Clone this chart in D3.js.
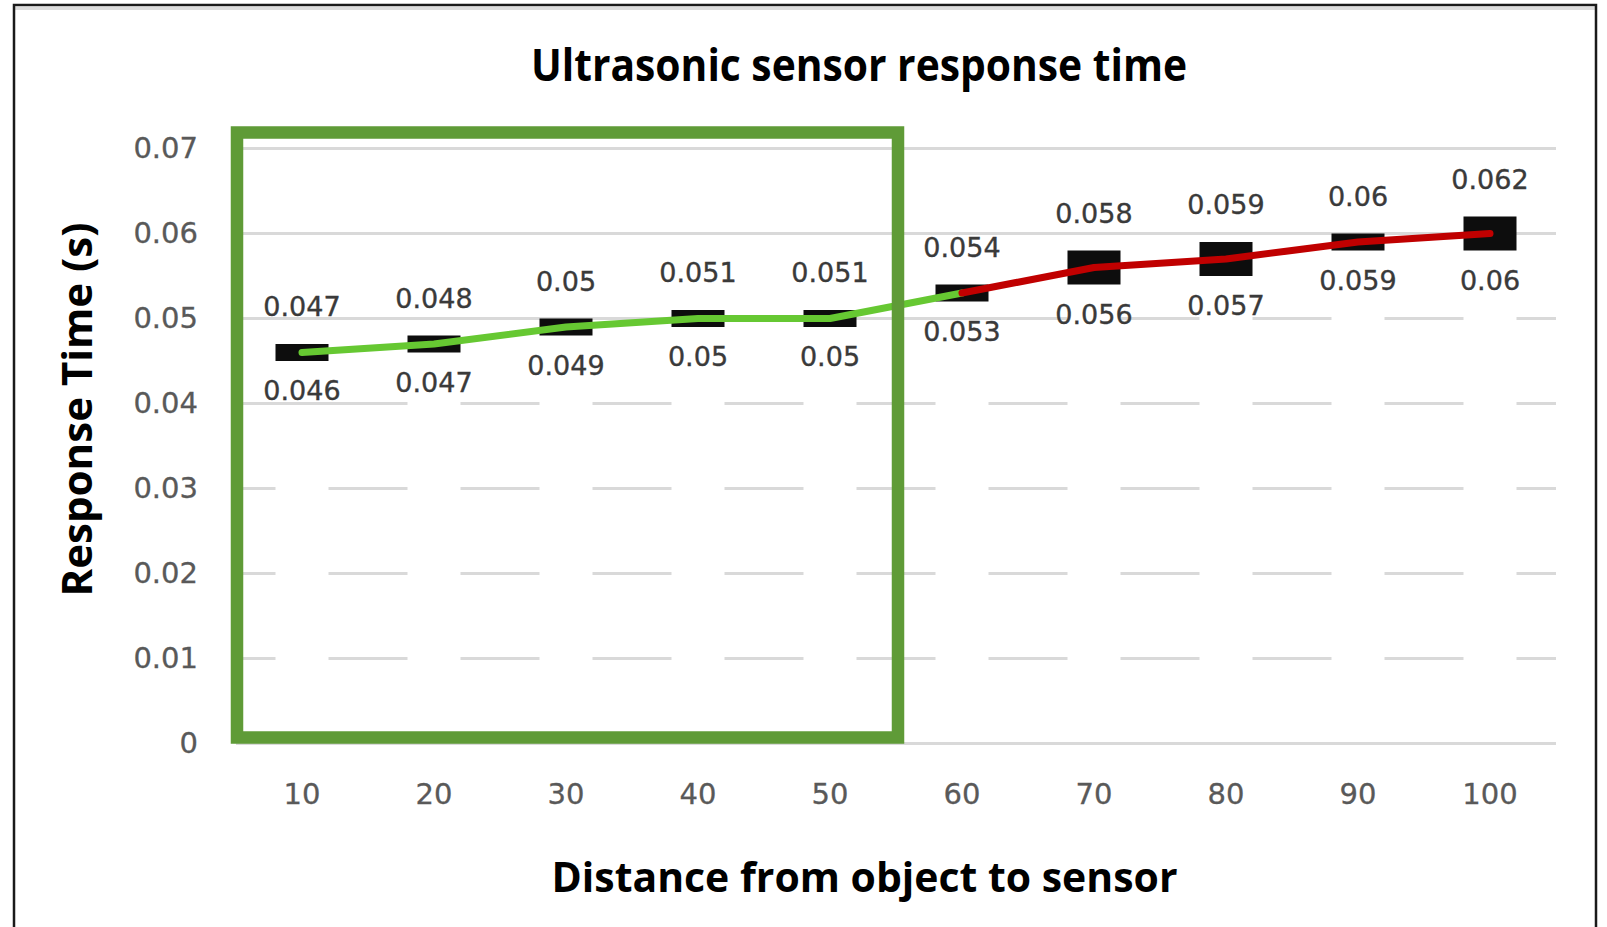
<!DOCTYPE html>
<html>
<head>
<meta charset="utf-8">
<script src="https://cdn.jsdelivr.net/npm/d3@7"></script>
<style>
  html, body { margin: 0; padding: 0; background: #ffffff; }
  svg { display: block; }
</style>
</head>
<body>
<svg id="chart" width="1607" height="927"></svg>
<script>
// ---- data ----
const categories = ["10", "20", "30", "40", "50", "60", "70", "80", "90", "100"];
const highValues = [0.047, 0.048, 0.05, 0.051, 0.051, 0.054, 0.058, 0.059, 0.06, 0.062];
const lowValues  = [0.046, 0.047, 0.049, 0.05, 0.05, 0.053, 0.056, 0.057, 0.059, 0.06];
const yTicks = [0, 0.01, 0.02, 0.03, 0.04, 0.05, 0.06, 0.07];
const yTickLabels = ["0", "0.01", "0.02", "0.03", "0.04", "0.05", "0.06", "0.07"];
const highlightedCategories = ["10", "20", "30", "40", "50"];
const greenSegment = ["10", "20", "30", "40", "50", "60"];
const redSegment = ["60", "70", "80", "90", "100"];
const titleText = "Ultrasonic sensor response time";
const xTitleText = "Distance from object to sensor";
const yTitleText = "Response Time (s)";

const svg = d3.select("#chart");
const W = 1607, H = 927;

const x = d3.scaleBand().domain(categories).range([236, 1556]).padding(0);
const y = d3.scaleLinear().domain([0, 0.07]).range([743.5, 148.5]);
const cx = c => x(c) + x.bandwidth() / 2;
const barW = 53;

const rows = categories.map((c, i) => ({ c, high: highValues[i], low: lowValues[i] }));
const byCat = {};
rows.forEach(r => byCat[r.c] = r);

// ---- frame ----
svg.append("rect").attr("width", W).attr("height", H).attr("fill", "#ffffff");
svg.append("line").attr("x1", 15).attr("x2", 1595).attr("y1", 8.5).attr("y2", 8.5)
  .attr("stroke", "#dcdcdc").attr("stroke-width", 3);
svg.append("path")
  .attr("d", "M14,927 L14,5 L1596,5 L1596,927")
  .attr("fill", "none").attr("stroke", "#1a1a1a").attr("stroke-width", 2.5);

// ---- gridlines (broken under the hidden base of each floating bar) ----
function gapped(v, c) {
  const n = +c;
  if (v <= 0 || v >= 0.06) return false;
  if (v <= 0.03) return true;
  if (Math.abs(v - 0.04) < 1e-9) return n !== 10;
  if (Math.abs(v - 0.05) < 1e-9) return n >= 70;
  return false;
}
const gridG = svg.append("g");
const [gx0, gx1] = x.range();
yTicks.forEach(v => {
  const gaps = categories.filter(c => gapped(v, c))
    .map(c => [cx(c) - barW / 2, cx(c) + barW / 2]);
  let start = gx0;
  const segs = [];
  gaps.forEach(g => { if (g[0] > start) segs.push([start, g[0]]); start = g[1]; });
  if (start < gx1) segs.push([start, gx1]);
  segs.forEach(s => {
    gridG.append("line")
      .attr("x1", s[0]).attr("x2", s[1])
      .attr("y1", y(v)).attr("y2", y(v))
      .attr("stroke", "#d9d9d9").attr("stroke-width", 3);
  });
});

// ---- axes ----
const yAxis = d3.axisLeft(y).tickValues(yTicks)
  .tickFormat((d, i) => yTickLabels[i]).tickSize(0).tickPadding(38);
const yAxisG = svg.append("g").attr("transform", `translate(${gx0},0)`).call(yAxis);
yAxisG.select(".domain").remove();
yAxisG.selectAll("text")
  .attr("font-family", "DejaVu Sans").attr("font-size", 29).attr("fill", "#595959")
  .attr("stroke", "#595959").attr("stroke-width", 0.3);

const xAxis = d3.axisBottom(x).tickSize(0).tickPadding(40);
const xAxisG = svg.append("g").attr("transform", `translate(0,${y(0)})`).call(xAxis);
xAxisG.select(".domain").remove();
xAxisG.selectAll("text")
  .attr("font-family", "DejaVu Sans").attr("font-size", 29).attr("fill", "#595959")
  .attr("stroke", "#595959").attr("stroke-width", 0.3);

// ---- floating bars ----
svg.append("g").selectAll("rect").data(rows).join("rect")
  .attr("x", d => cx(d.c) - barW / 2)
  .attr("width", barW)
  .attr("y", d => y(d.high))
  .attr("height", d => y(2 * d.low - d.high) - y(d.high))
  .attr("fill", "#0d0d0d");

// ---- lines through low values ----
const line = d3.line().x(d => cx(d.c)).y(d => y(d.low));
svg.append("path").datum(greenSegment.map(c => byCat[c]))
  .attr("d", line).attr("fill", "none")
  .attr("stroke", "#66c832").attr("stroke-width", 7)
  .attr("stroke-linecap", "round").attr("stroke-linejoin", "round");
svg.append("path").datum(redSegment.map(c => byCat[c]))
  .attr("d", line).attr("fill", "none")
  .attr("stroke", "#c00000").attr("stroke-width", 7)
  .attr("stroke-linecap", "round").attr("stroke-linejoin", "round");

// ---- data labels ----
const fmt = v => String(+v.toFixed(3));
const lblG = svg.append("g")
  .attr("font-family", "DejaVu Sans").attr("font-size", 27)
  .attr("fill", "#3a3a3a").attr("stroke", "#3a3a3a").attr("stroke-width", 0.35)
  .attr("text-anchor", "middle");
lblG.selectAll("text.hi").data(rows).join("text").attr("class", "hi")
  .attr("x", d => cx(d.c)).attr("y", d => y(d.high) - 28)
  .text(d => fmt(d.high));
lblG.selectAll("text.lo").data(rows).join("text").attr("class", "lo")
  .attr("x", d => cx(d.c)).attr("y", d => y(2 * d.low - d.high) + 39)
  .text(d => fmt(d.low));

// ---- highlight box ----
const hFirst = highlightedCategories[0];
const hLast = highlightedCategories[highlightedCategories.length - 1];
svg.append("rect")
  .attr("x", x(hFirst) + 1)
  .attr("y", y(0.07) - 16)
  .attr("width", (x(hLast) + x.bandwidth() + 2) - (x(hFirst) + 1))
  .attr("height", (y(0) - 6) - (y(0.07) - 16))
  .attr("fill", "none").attr("stroke", "#5f9b37").attr("stroke-width", 12.5);

// ---- titles ----
svg.append("text").attr("x", 859).attr("y", 81)
  .attr("text-anchor", "middle")
  .attr("font-family", "Open Sans").attr("font-weight", 700).attr("font-size", 45)
  .attr("textLength", 656).attr("lengthAdjust", "spacingAndGlyphs")
  .attr("fill", "#000").text(titleText);
svg.append("text").attr("x", 864.5).attr("y", 891.5)
  .attr("text-anchor", "middle")
  .attr("font-family", "Open Sans").attr("font-weight", 700).attr("font-size", 42)
  .attr("textLength", 626).attr("lengthAdjust", "spacingAndGlyphs")
  .attr("fill", "#000").text(xTitleText);
svg.append("text")
  .attr("transform", "translate(91.5,409.5) rotate(-90)")
  .attr("text-anchor", "middle")
  .attr("font-family", "Open Sans").attr("font-weight", 700).attr("font-size", 42)
  .attr("textLength", 374).attr("lengthAdjust", "spacingAndGlyphs")
  .attr("fill", "#000").text(yTitleText);
</script>
</body>
</html>
